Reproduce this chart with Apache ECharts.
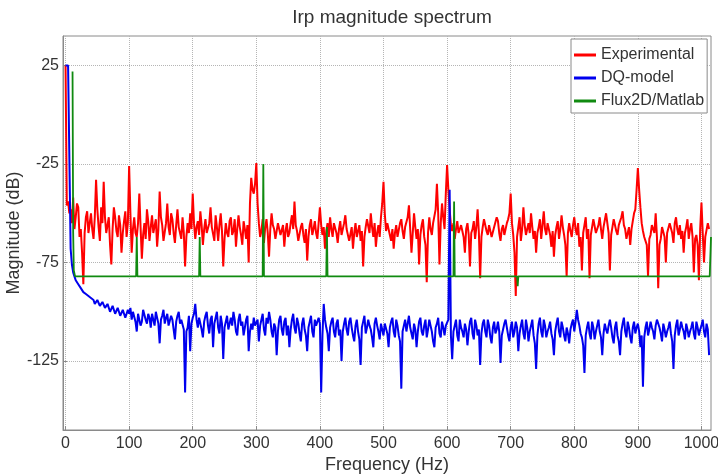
<!DOCTYPE html>
<html>
<head>
<meta charset="utf-8">
<script src="https://cdn.jsdelivr.net/npm/echarts@6/dist/echarts.min.js"></script>
<style>
    html, body { margin: 0; padding: 0; background: #fff; }
    #divChart { width: 718px; height: 476px; }
</style>
</head>
<body>
<div id="divChart"></div>
<script>
    // spectrum bins, 2 Hz apart, starting at 0 Hz
    var binHz = 2;

    // Experimental
    var redMag = [
        25, -46, -44, -50, -48, -55, -42, -58, -52, -45,
        -47, -62, -58, -70, -86, -60, -52, -49, -60, -55,
        -50, -58, -63, -52, -33, -48, -57, -64, -47, -55,
        -34, -52, -60, -56, -52, -66, -76, -58, -47, -52,
        -59, -62, -51, -56, -70, -60, -54, -49, -62, -55,
        // 100
        -26, -50, -70, -58, -52, -60, -62, -55, -40, -57,
        -73, -61, -55, -63, -48, -54, -64, -57, -51, -60,
        -59, -53, -67, -58, -39, -52, -56, -64, -63, -55,
        -45, -57, -61, -50, -53, -60, -65, -56, -48, -57,
        -58, -63, -52, -60, -77, -62, -55, -60, -50, -58,
        // 200
        -40, -55, -63, -57, -54, -61, -49, -56, -66, -58,
        -53, -60, -61, -55, -47, -57, -58, -64, -51, -57,
        -64, -56, -50, -59, -77, -63, -55, -60, -62, -54,
        -52, -61, -59, -53, -67, -58, -51, -57, -61, -66,
        -54, -58, -63, -56, -75, -45, -32, -38, -40, -35,
        // 300
        -24.5, -45, -55, -62, -59, -53, -65, -57, -53, -60,
        -72, -58, -50, -56, -58, -63, -63, -55, -54, -61,
        -61, -56, -67, -59, -55, -62, -60, -55, -51, -58,
        -44, -56, -59, -64, -63, -57, -55, -61, -65, -58,
        -74, -62, -56, -53, -61, -58, -54, -60, -63, -55,
        // 400
        -47, -56, -61, -57, -68, -59, -55, -62, -52, -58,
        -62, -55, -56, -60, -65, -58, -54, -61, -61, -55,
        -51, -58, -59, -64, -63, -57, -68, -60, -55, -62,
        -61, -56, -64, -59, -77, -62, -57, -53, -54, -60,
        -50, -57, -62, -55, -67, -60, -56, -62, -52, -45,
        // 500
        -34, -50, -59, -55, -54, -61, -64, -58, -68, -60,
        -56, -62, -61, -55, -53, -59, -63, -57, -57, -52,
        -46, -58, -70, -60, -50, -57, -63, -58, -76, -61,
        -56, -53, -62, -66, -85, -60, -52, -58, -61, -55,
        -55, -48, -35, -50, -76, -55, -45, -52, -58, -40,
        // 600
        -25.5, -38, -48, -56, -59, -55, -63, -58, -54, -60,
        -61, -56, -56, -62, -70, -58, -55, -61, -77, -60,
        -58, -54, -63, -57, -48, -60, -83, -62, -57, -53,
        -52, -59, -61, -56, -55, -62, -63, -57, -57, -52,
        -54, -60, -64, -58, -56, -61, -61, -55, -53, -50,
        // 700
        -40, -55, -61, -70, -92, -62, -57, -52, -64, -58,
        -47, -56, -61, -58, -55, -60, -50, -57, -63, -59,
        -70, -60, -57, -53, -63, -56, -49, -58, -61, -55,
        -55, -61, -67, -59, -72, -61, -57, -54, -63, -58,
        -51, -57, -61, -66, -82, -60, -55, -59, -62, -56,
        // 800
        -52, -58, -61, -55, -67, -62, -79, -60, -56, -52,
        -63, -58, -83, -61, -57, -53, -54, -60, -61, -56,
        -52, -58, -63, -57, -56, -50, -51, -60, -79, -61,
        -57, -53, -54, -59, -61, -56, -55, -52, -49, -56,
        -58, -63, -63, -57, -66, -58, -54, -50, -48, -38,
        // 900
        -27, -38, -47, -55, -59, -62, -61, -66, -82, -63,
        -61, -56, -55, -60, -50, -62, -88, -66, -63, -57,
        -57, -62, -75, -60, -61, -55, -55, -60, -65, -55,
        -52, -58, -61, -56, -63, -59, -70, -60, -57, -53,
        -63, -58, -55, -62, -80, -63, -61, -66, -84, -58,
        -44.6, -60, -75, -62, -61, -55, -58
    ];

    // DQ-model
    var blueMag = [
        25, 25, 25, 25, -68, -76, -80, -82, -84, -85,
        -86, -87, -88, -89, -90, -90, -91, -92, -92, -93,
        -93, -94, -94, -96, -96, -94, -95, -97, -97, -95,
        -96, -98, -98, -96, -97, -100, -99, -97, -98, -101,
        -100, -98, -99, -102, -101, -99, -100, -103, -102, -99,
        // 100
        -101, -98, -104, -100, -99, -105, -110, -101, -102, -107,
        -105, -99, -100, -104, -106, -101, -103, -108, -101, -104,
        -107, -100, -103, -106, -116, -104, -102, -99, -106, -103,
        -101, -107, -108, -102, -104, -109, -114, -105, -102, -100,
        -106, -104, -103, -109, -141, -110, -108, -102, -120, -106,
        // 200
        -103, -101, -96, -104, -108, -103, -104, -109, -113, -105,
        -102, -100, -107, -111, -104, -102, -118, -106, -103, -100,
        -108, -111, -102, -106, -124, -108, -105, -102, -109, -106,
        -103, -107, -100, -104, -110, -112, -104, -101, -107, -105,
        -112, -108, -104, -102, -120, -110, -106, -109, -103, -107,
        // 300
        -108, -104, -115, -107, -104, -101, -109, -112, -103, -106,
        -100, -104, -110, -113, -106, -108, -122, -110, -104, -102,
        -109, -112, -105, -103, -112, -107, -118, -109, -104, -101,
        -108, -111, -103, -106, -111, -115, -106, -103, -109, -112,
        -120, -108, -105, -102, -110, -113, -104, -107, -108, -103,
        // 400
        -106, -141, -112, -96, -104, -108, -111, -120, -108, -105,
        -103, -110, -113, -106, -104, -112, -109, -125, -110, -106,
        -103, -109, -112, -105, -103, -108, -112, -115, -107, -104,
        -110, -114, -127, -108, -105, -102, -111, -108, -104, -107,
        -109, -113, -118, -106, -103, -107, -110, -114, -106, -109,
        // 500
        -112, -106, -107, -111, -118, -108, -105, -103, -110, -113,
        -104, -107, -112, -115, -139, -110, -107, -104, -110, -106,
        -102, -108, -111, -114, -106, -109, -118, -110, -105, -103,
        -110, -112, -107, -104, -113, -109, -104, -107, -110, -115,
        -118, -108, -106, -103, -111, -113, -105, -108, -112, -107,
        // 600
        -108, -104, -38, -112, -124, -110, -107, -104, -112, -115,
        -104, -108, -110, -113, -106, -109, -117, -110, -105, -103,
        -111, -114, -104, -107, -112, -109, -127, -111, -106, -104,
        -110, -113, -104, -107, -113, -116, -108, -105, -111, -109,
        -105, -110, -126, -112, -109, -106, -104, -108, -112, -115,
        // 700
        -108, -105, -113, -110, -105, -108, -120, -111, -107, -104,
        -111, -114, -104, -108, -115, -110, -107, -104, -112, -116,
        -129, -112, -106, -103, -110, -113, -104, -107, -113, -110,
        -108, -105, -111, -114, -122, -110, -106, -103, -110, -113,
        -105, -108, -112, -115, -108, -111, -116, -109, -106, -104,
        // 800
        -110, -105, -99, -104, -107, -111, -113, -117, -131, -112,
        -108, -105, -111, -114, -105, -108, -114, -110, -107, -104,
        -110, -113, -122, -111, -106, -109, -111, -107, -104, -108,
        -113, -116, -108, -105, -112, -115, -122, -110, -106, -103,
        -110, -113, -105, -108, -113, -116, -108, -105, -111, -108,
        // 900
        -106, -110, -118, -112, -138, -113, -108, -105, -112, -109,
        -105, -108, -110, -114, -107, -104, -103, -108, -111, -115,
        -106, -109, -113, -110, -108, -105, -111, -115, -129, -112,
        -107, -104, -112, -109, -105, -108, -110, -114, -106, -109,
        -113, -110, -108, -105, -111, -114, -105, -108, -112, -109,
        -107, -104, -110, -113, -106, -109, -122
    ];

    // Flux2D/Matlab: flat floor with a few thin harmonics
    var greenFreq = [11, 12, 13, 15, 111, 112, 113, 210, 211, 212, 310, 311, 312, 410, 411, 412, 610, 611, 612, 710, 711, 712, 1013, 1015];
    var greenMag  = [22, -60, -79, -82, -82, -62, -82, -82, -62, -82, -82, -25, -82, -82, -57, -82, -82, -44, -82, -82, -87, -82, -82, -62];

    var xTicks = [0, 100, 200, 300, 400, 500, 600, 700, 800, 900, 1000];
    var yTicks = [-125, -75, -25, 25];

    var fontName = 'Liberation Sans, Arial, sans-serif';

    function binned(arr) {
        return arr.map(function (v, i) { return [i * binHz, v]; });
    }
    function paired(xs, ys) {
        return xs.map(function (x, i) { return [x, ys[i]]; });
    }

    var myChart = echarts.init(document.getElementById('divChart'));
    var option = {
        animation: false,
        backgroundColor: '#fff',
        title: {
            text: 'Irp magnitude spectrum',
            left: 387,
            top: 3,
            textAlign: 'center',
            textStyle: { fontFamily: fontName, fontSize: 19, fontWeight: 'normal', color: '#333' }
        },
        grid: {
            left: 63, right: 7, top: 36, bottom: 46,
            outerBoundsMode: 'none',
            containLabel: false,
            show: true, borderColor: '#8a8a8a', borderWidth: 1
        },
        legend: {
            orient: 'vertical',
            left: 571,
            top: 39,
            icon: 'rect',
            itemWidth: 22,
            itemHeight: 3,
            itemGap: 7,
            padding: [8, 3, 4, 3],
            backgroundColor: '#fff',
            borderColor: '#8a8a8a',
            borderWidth: 1,
            textStyle: { fontFamily: fontName, fontSize: 16, color: '#333' },
            data: ['Experimental', 'DQ-model', 'Flux2D/Matlab']
        },
        xAxis: {
            type: 'value',
            min: -4,
            max: 1015,
            name: 'Frequency (Hz)',
            nameLocation: 'middle',
            nameGap: 26,
            nameMoveOverlap: false,
            nameTextStyle: { fontFamily: fontName, fontSize: 18, color: '#333' },
            axisLine: { show: true, onZero: false, lineStyle: { color: '#8a8a8a' } },
            axisTick: { show: true, inside: true, length: 4, customValues: xTicks, lineStyle: { color: '#8a8a8a' } },
            axisLabel: {
                customValues: xTicks, fontFamily: fontName, fontSize: 16, color: '#333', margin: 6,
                formatter: function (v) { return String(v); }
            },
            splitLine: { show: true, lineStyle: { type: 'dotted', color: '#b5b5b5', width: 1 } }
        },
        yAxis: {
            type: 'value',
            min: -160,
            max: 40,
            name: 'Magnitude (dB)',
            nameLocation: 'middle',
            nameGap: 40,
            nameMoveOverlap: false,
            nameTextStyle: { fontFamily: fontName, fontSize: 18, color: '#333' },
            axisLine: { show: true, onZero: false, lineStyle: { color: '#8a8a8a' } },
            axisTick: { show: true, inside: true, length: 4, customValues: yTicks, lineStyle: { color: '#8a8a8a' } },
            axisLabel: { customValues: yTicks, fontFamily: fontName, fontSize: 16, color: '#333', margin: 4 },
            splitLine: { show: true, lineStyle: { type: 'dotted', color: '#b5b5b5', width: 1 } }
        },
        series: [
            {
                name: 'Experimental',
                type: 'line',
                symbol: 'none',
                data: binned(redMag),
                lineStyle: { color: '#ff0000', width: 2 },
                itemStyle: { color: '#ff0000' }
            },
            {
                name: 'DQ-model',
                type: 'line',
                symbol: 'none',
                data: binned(blueMag),
                lineStyle: { color: '#0000ee', width: 2 },
                itemStyle: { color: '#0000ee' }
            },
            {
                name: 'Flux2D/Matlab',
                type: 'line',
                symbol: 'none',
                data: paired(greenFreq, greenMag),
                lineStyle: { color: '#108a10', width: 1.8 },
                itemStyle: { color: '#108a10' }
            }
        ]
    };
    myChart.setOption(option);
</script>
</body>
</html>
